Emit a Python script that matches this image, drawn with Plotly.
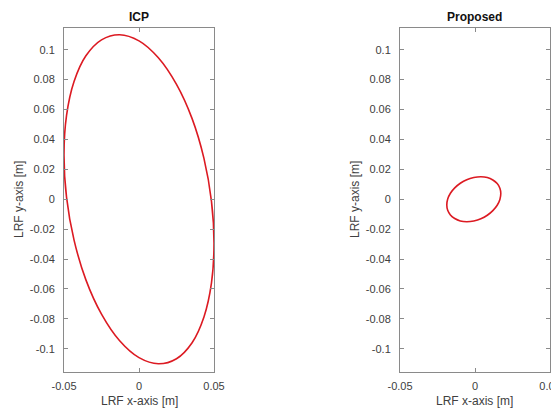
import plotly.graph_objects as go

# Localisation error traces in the LRF frame (metres)
icp_x = [0.0500, 0.0483, 0.0433, 0.0354, 0.0250, 0.0129, 0.0000, -0.0129, -0.0250, -0.0354,
         -0.0433, -0.0483, -0.0500, -0.0483, -0.0433, -0.0354, -0.0250, -0.0129, 0.0000, 0.0129,
         0.0250, 0.0354, 0.0433, 0.0483, 0.0500]
icp_y = [-0.0297, -0.0561, -0.0787, -0.0959, -0.1066, -0.1100, -0.1059, -0.0946, -0.0768, -0.0539,
         -0.0273, 0.0013, 0.0297, 0.0561, 0.0787, 0.0959, 0.1066, 0.1100, 0.1059, 0.0946,
         0.0768, 0.0539, 0.0273, -0.0013, -0.0297]

prop_x = [0.0172, 0.0166, 0.0148, 0.0119, 0.0082, 0.0039, -0.0008, -0.0055, -0.0098, -0.0135,
          -0.0164, -0.0182, -0.0188, -0.0182, -0.0164, -0.0135, -0.0098, -0.0055, -0.0008, 0.0039,
          0.0082, 0.0119, 0.0148, 0.0166, 0.0172]
prop_y = [0.0038, 0.0074, 0.0105, 0.0129, 0.0145, 0.0150, 0.0145, 0.0131, 0.0107, 0.0076,
          0.0040, 0.0001, -0.0038, -0.0074, -0.0105, -0.0129, -0.0145, -0.0150, -0.0145, -0.0131,
          -0.0107, -0.0076, -0.0040, -0.0001, 0.0038]

titles = ["ICP", "Proposed"]
x_ticks = [-0.05, 0, 0.05]
x_tick_text = ["-0.05", "0", "0.05"]
y_ticks = [0.1, 0.08, 0.06, 0.04, 0.02, 0, -0.02, -0.04, -0.06, -0.08, -0.1]
y_tick_text = ["0.1", "0.08", "0.06", "0.04", "0.02", "0", "-0.02", "-0.04", "-0.06", "-0.08", "-0.1"]
x_label = "LRF x-axis [m]"
y_label = "LRF y-axis [m]"

W, H = 551, 411
LINE_RED = "#dc1a22"
AX_COL = "#8a8a8a"
TXT_COL = "#404040"
FONT = "Liberation Sans, Arial, sans-serif"

# panel placement in pixels (left, right), shared top/bottom
panels = [(64, 214), (400, 550)]
top_px, bot_px = 28, 372

fig = go.Figure()
fig.add_trace(go.Scatter(x=icp_x, y=icp_y, mode="lines", line=dict(color=LINE_RED, width=1.6, shape="spline"),
                         xaxis="x", yaxis="y", showlegend=False))
fig.add_trace(go.Scatter(x=prop_x, y=prop_y, mode="lines", line=dict(color=LINE_RED, width=1.6, shape="spline"),
                         xaxis="x2", yaxis="y2", showlegend=False))

ydom = [(H - bot_px) / H, (H - top_px) / H]
axis_common = dict(showline=True, linecolor=AX_COL, linewidth=1, mirror="ticks", ticks="inside",
                   ticklen=4, tickcolor=AX_COL, showgrid=False, zeroline=False, automargin=False,
                   ticklabeloverflow="allow",
                   tickfont=dict(family=FONT, size=11, color=TXT_COL))

layout = dict(width=W, height=H, margin=dict(l=0, r=0, t=0, b=0, autoexpand=False),
              paper_bgcolor="white", plot_bgcolor="white",
              font=dict(family=FONT, color=TXT_COL))
annotations = []
for i, (l, r) in enumerate(panels):
    sfx = "" if i == 0 else str(i + 1)
    layout["xaxis" + sfx] = dict(axis_common, domain=[l / W, r / W], range=[-0.05, 0.05],
                                 tickvals=x_ticks, ticktext=x_tick_text, anchor="y" + sfx,
                                 ticklabelstandoff=4)
    layout["yaxis" + sfx] = dict(axis_common, domain=ydom, range=[-0.1155, 0.1145],
                                 tickvals=y_ticks, ticktext=y_tick_text, anchor="x" + sfx,
                                 ticklabelstandoff=6)
    cx = (l + r) / 2 / W
    annotations.append(dict(text="<b>" + titles[i] + "</b>", x=cx, y=(H - 17) / H, xref="paper", yref="paper",
                            showarrow=False, font=dict(family=FONT, size=12, color="#111111"),
                            xanchor="center", yanchor="middle"))
    annotations.append(dict(text=x_label, x=cx, y=(H - 401) / H, xref="paper", yref="paper",
                            showarrow=False, font=dict(family=FONT, size=12, color=TXT_COL),
                            xanchor="center", yanchor="middle"))
    annotations.append(dict(text=y_label, x=(l - 45) / W, y=(H - 200) / H, xref="paper", yref="paper",
                            showarrow=False, textangle=-90, font=dict(family=FONT, size=12, color=TXT_COL),
                            xanchor="center", yanchor="middle"))
layout["annotations"] = annotations
fig.update_layout(**layout)
fig.write_html("out.html")
